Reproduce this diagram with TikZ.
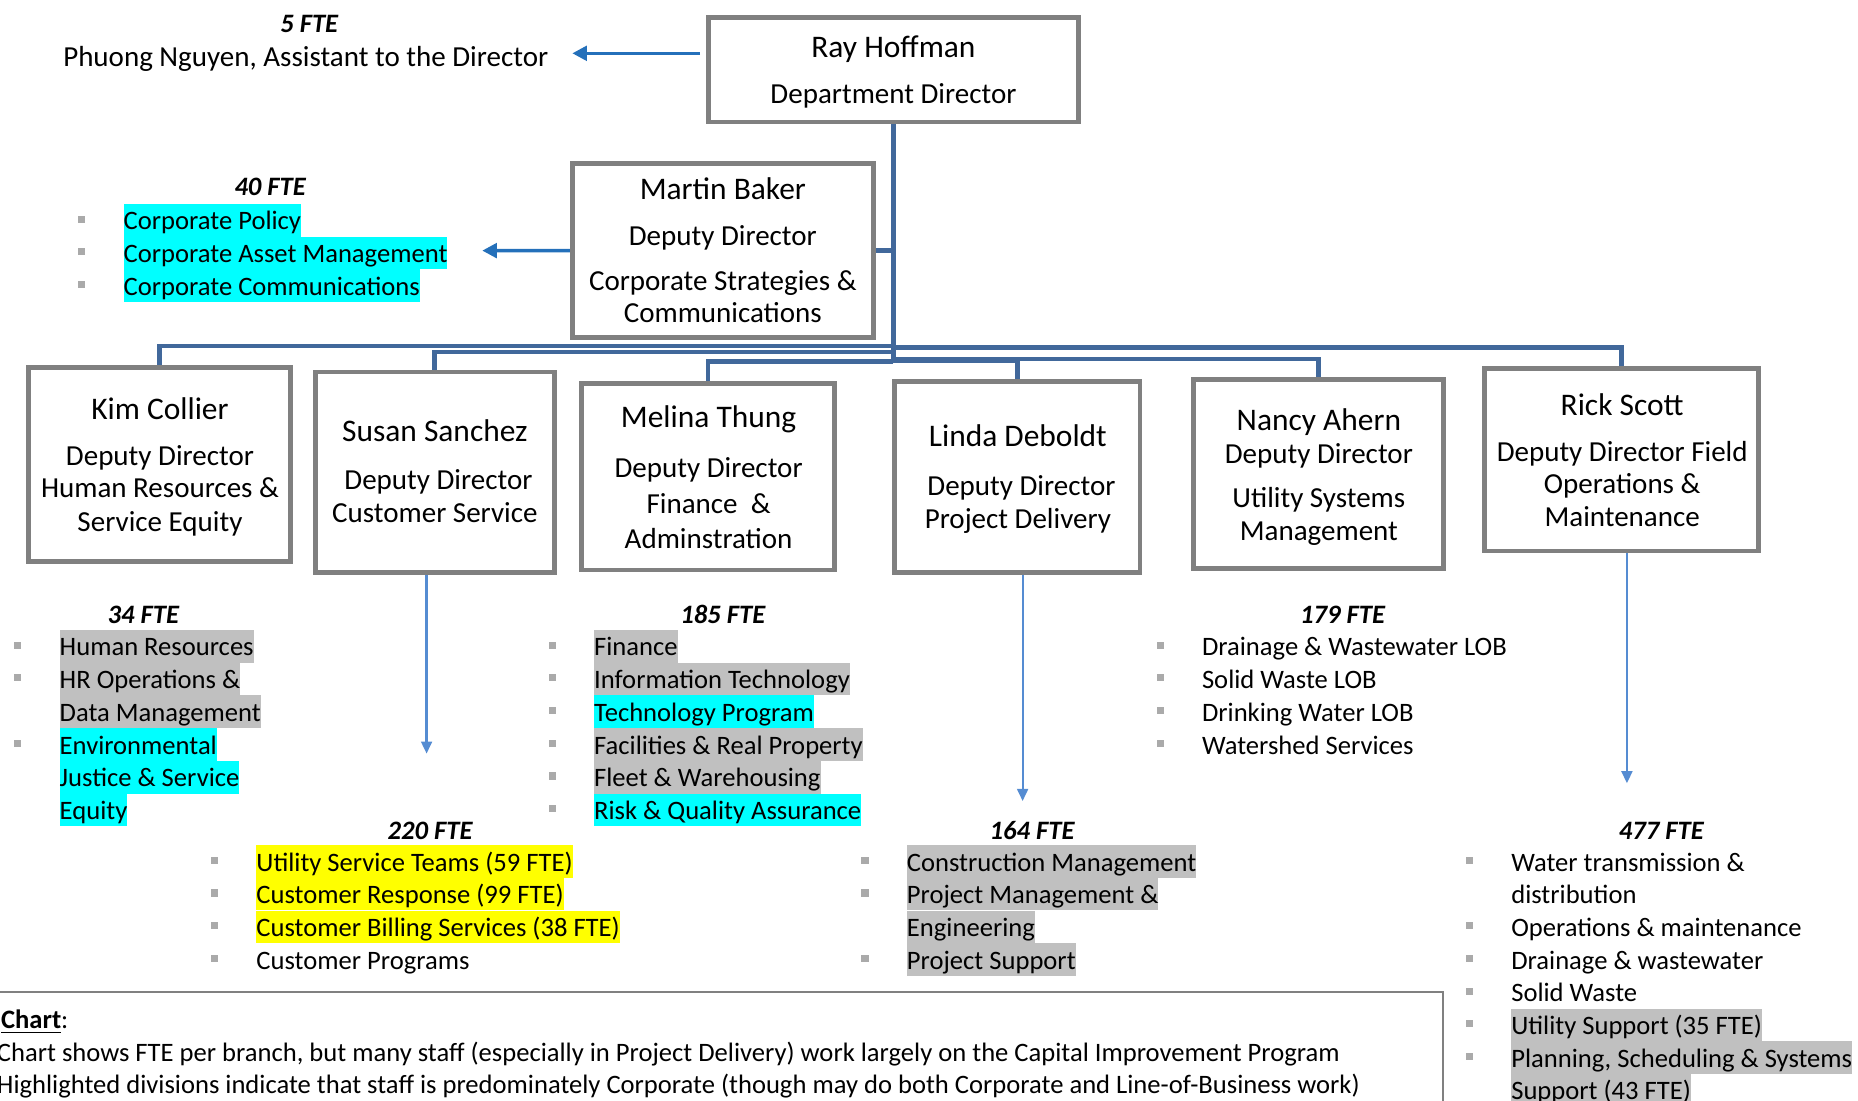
\documentclass[tikz,border=0pt]{standalone}
\usepackage{fontspec}
\setmainfont{Carlito}
\usetikzlibrary{arrows.meta,fit,backgrounds}
\definecolor{conn}{RGB}{65,104,155}
\definecolor{boxgray}{RGB}{128,128,128}
\definecolor{arrblue}{RGB}{36,112,186}
\definecolor{arrlight}{RGB}{85,140,210}
\definecolor{bulc}{RGB}{170,170,170}
\definecolor{hlcyan}{RGB}{0,255,255}
\definecolor{hlgray}{RGB}{192,192,192}
\definecolor{hlyellow}{RGB}{255,255,0}
\definecolor{notegray}{RGB}{128,128,128}
\tikzset{
 box/.style={draw=boxgray, line width=2pt, fill=white, inner sep=0pt},
 item/.style={anchor=west, inner xsep=0pt, inner ysep=0pt, text height=10.7pt, text depth=2.8pt, font=\fontsize{11}{13.5}\selectfont},
 fte/.style={font=\fontsize{11}{13.5}\selectfont\bfseries\itshape, inner sep=0pt, text height=8pt, text depth=2pt, yshift=-1pt},
 nm/.style={font=\fontsize{13}{15}\selectfont, inner sep=0pt, text height=9.2pt, text depth=2.7pt, yshift=-1pt},
 bt/.style={font=\fontsize{12}{14}\selectfont, inner sep=0pt, text height=8.5pt, text depth=2.5pt, yshift=-1pt},
 orgline/.style={draw=conn, line width=2pt},
 harrow/.style={draw=arrblue, line width=1.4pt, -{Triangle[length=6pt,width=6pt]}},
 varrow/.style={draw=arrlight, line width=0.9pt, -{Triangle[length=5pt,width=4.5pt]}},
}
\newcommand\litem[5]{%
  \fill[bulc] ({#2-38},{#3-4}) rectangle ({#2-32},{#3+2});
  \node[item,fill=#4] (#1) at (#2,#3) {#5};}
\newcommand\lcont[5]{\node[item,fill=#4] (#1) at (#2,#3) {#5};}
\begin{document}
\begin{tikzpicture}[x=0.49pt,y=-0.49pt]
\useasboundingbox (0,0) rectangle (1568,929);
% boxes
\node[box, fit={(598,15)(910,103)}] (ray) {};
\node[box, fit={(483,138)(737,285)}] (martin) {};
\node[box, fit={(24,310)(245,474)}] (kim) {};
\node[box, fit={(266,314)(468,483)}] (susan) {};
\node[box, fit={(491,324)(704,481)}] (melina) {};
\node[box, fit={(755,322)(962,483)}] (linda) {};
\node[box, fit={(1007,320)(1218,480)}] (nancy) {};
\node[box, fit={(1253,311)(1484,465)}] (rick) {};
% connectors
\begin{scope}[on background layer]
\coordinate (hub) at (754,306);
\draw[orgline] (ray.south) -- (hub);
\draw[orgline] (martin.east) -- (martin.east -| hub);
\coordinate (bkim) at (754,292); \draw[orgline] (bkim) -| (kim.north);
\coordinate (bsus) at (754,297); \draw[orgline] (bsus) -| (susan.north);
\coordinate (bmel) at (754,305); \draw[orgline] (bmel) -| (melina.north);
\coordinate (blin) at (754,304.5); \draw[orgline] (blin) -| (linda.north);
\coordinate (bnan) at (754,303); \draw[orgline] (bnan) -| (nancy.north);
\coordinate (bric) at (754,293); \draw[orgline] (bric) -| (rick.north);
\end{scope}
% box texts
\node[nm] (rayn) at (754,40) {Ray Hoffman};
\node[bt] (rayt) at (754,79) {Department Director};
\node[nm] (martinn) at (610,160) {Martin Baker};
\node[bt] (martint1) at (610,199) {Deputy Director};
\node[bt] (martint2) at (610,237) {Corporate Strategies \&};
\node[bt] (martint3) at (610,264) {Communications};
\node[nm] (kimn) at (135,345) {Kim Collier};
\node[bt] (kimt1) at (135,385) {Deputy Director};
\node[bt] (kimt2) at (135,412) {Human Resources \&};
\node[bt] (kimt3) at (135,440) {Service Equity};
\node[nm] (susn) at (367,364) {Susan Sanchez};
\node[bt] (sust1) at (370,405) {Deputy Director};
\node[bt] (sust2) at (367,433) {Customer Service};
\node[nm] (meln) at (598,352) {Melina Thung};
\node[bt] (melt1) at (598,395) {Deputy Director};
\node[bt] (melt2) at (598,425) {Finance\ \ \&};
\node[bt] (melt3) at (598,455) {Adminstration};
\node[nm] (linn) at (859,368) {Linda Deboldt};
\node[bt] (lint1) at (862,410) {Deputy Director};
\node[bt] (lint2) at (859,438) {Project Delivery};
\node[nm] (nann) at (1113,355) {Nancy Ahern};
\node[bt] (nant1) at (1113,383) {Deputy Director};
\node[bt] (nant2) at (1113,420) {Utility Systems};
\node[bt] (nant3) at (1113,448) {Management};
\node[nm] (ricn) at (1369,342) {Rick Scott};
\node[bt] (rict1) at (1369,381) {Deputy Director Field};
\node[bt] (rict2) at (1369,408) {Operations \&};
\node[bt] (rict3) at (1369,436) {Maintenance};
% assistant
\node[fte] (f5) at (261,19) {5 FTE};
\node[bt] (phuong) at (258,48) {Phuong Nguyen, Assistant to the Director};
\coordinate (pa) at (483,45);
\draw[harrow, shorten <=2.5pt] (ray.west |- pa) -- (pa);
% corporate
\coordinate (ma) at (407,211.5);
\draw[harrow] (martin.west) -- (ma);
\node[fte] (f40) at (228,157) {40 FTE};
\litem{c1}{104}{186}{hlcyan}{Corporate Policy}
\litem{c2}{104}{213.6}{hlcyan}{Corporate Asset Management}
\litem{c3}{104}{241.2}{hlcyan}{Corporate Communications}
% down arrows
\coordinate (sa) at (360,636); \draw[varrow] (susan.south -| sa) -- (sa);
\coordinate (la) at (863,676); \draw[varrow] (linda.south -| la) -- (la);
\coordinate (ra) at (1373,661); \draw[varrow] (rick.south -| ra) -- (ra);
% 34 FTE
\node[fte] (f34) at (121,518) {34 FTE};
\litem{k1}{50}{545.5}{hlgray}{Human Resources}
\litem{k2}{50}{573.1}{hlgray}{HR Operations \&}
\lcont{k3}{50}{600.7}{hlgray}{Data Management}
\litem{k4}{50}{628.3}{hlcyan}{Environmental}
\lcont{k5}{50}{655.9}{hlcyan}{Justice \& Service}
\lcont{k6}{50}{683.5}{hlcyan}{Equity}
% 185 FTE
\node[fte] (f185) at (610,518) {185 FTE};
\litem{m1}{501}{545.5}{hlgray}{Finance}
\litem{m2}{501}{573.1}{hlgray}{Information Technology}
\litem{m3}{501}{600.7}{hlcyan}{Technology Program}
\litem{m4}{501}{628.3}{hlgray}{Facilities \& Real Property}
\litem{m5}{501}{655.9}{hlgray}{Fleet \& Warehousing}
\litem{m6}{501}{683.5}{hlcyan}{Risk \& Quality Assurance}
% 179 FTE
\node[fte] (f179) at (1133,518) {179 FTE};
\litem{n1}{1014}{545.5}{none}{Drainage \& Wastewater LOB}
\litem{n2}{1014}{573.1}{none}{Solid Waste LOB}
\litem{n3}{1014}{600.7}{none}{Drinking Water LOB}
\litem{n4}{1014}{628.3}{none}{Watershed Services}
% 220 FTE
\node[fte] (f220) at (363,700) {220 FTE};
\litem{s1}{216}{727}{hlyellow}{Utility Service Teams (59 FTE)}
\litem{s2}{216}{754.6}{hlyellow}{Customer Response (99 FTE)}
\litem{s3}{216}{782.2}{hlyellow}{Customer Billing Services (38 FTE)}
\litem{s4}{216}{809.8}{none}{Customer Programs}
% 164 FTE
\node[fte] (f164) at (871,700) {164 FTE};
\litem{l1}{765}{727}{hlgray}{Construction Management}
\litem{l2}{765}{754.6}{hlgray}{Project Management \&}
\lcont{l3}{765}{782.2}{hlgray}{Engineering}
\litem{l4}{765}{809.8}{hlgray}{Project Support}
% 477 FTE
\node[fte] (f477) at (1402,700) {477 FTE};
\litem{r1}{1275}{727}{none}{Water transmission \&}
\lcont{r2}{1275}{754.6}{none}{distribution}
\litem{r3}{1275}{782.2}{none}{Operations \& maintenance}
\litem{r4}{1275}{809.8}{none}{Drainage \& wastewater}
\litem{r5}{1275}{837.4}{none}{Solid Waste}
\litem{r6}{1275}{865}{hlgray}{Utility Support (35 FTE)}
\litem{r7}{1275}{892.6}{hlgray}{Planning, Scheduling \& Systems}
\lcont{r8}{1275}{920.2}{hlgray}{Support (43 FTE)}
% note
\node[draw=notegray, line width=1pt, inner sep=0pt, fit={(-20,837)(1218,990)}] (note) {};
\node[item] (nt0) at (0.5,860) {\underline{\textbf{Chart}}:};
\node[item] (nt1) at (-3,888) {Chart shows FTE per branch, but many staff (especially in Project Delivery) work largely on the Capital Improvement Program};
\node[item] (nt2) at (-3,915) {Highlighted divisions indicate that staff is predominately Corporate (though may do both Corporate and Line-of-Business work)};
\end{tikzpicture}
\end{document}
